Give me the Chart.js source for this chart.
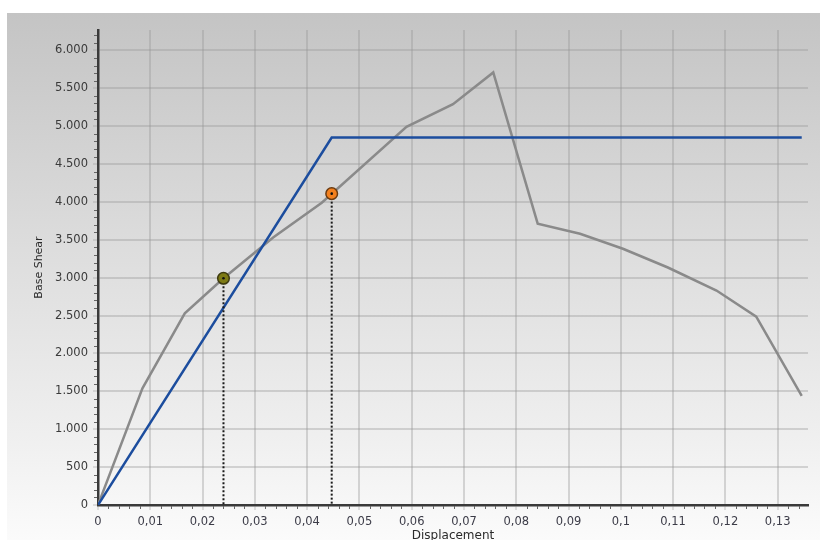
<!DOCTYPE html>
<html>
<head>
<meta charset="utf-8">
<script src="https://cdn.jsdelivr.net/npm/chart.js@4/dist/chart.umd.min.js"></script>
<style>
  html, body { margin: 0; padding: 0; background: #fff; }
  canvas { display: block; }
</style>
</head>
<body>
<canvas id="c" width="820" height="540"></canvas>
<script>
// Pushover capacity curve, its bilinear idealisation and two performance points
const displacement = [0, 0.0085, 0.0166, 0.0240, 0.0335, 0.0428, 0.0590, 0.0679, 0.0756, 0.0841, 0.0922, 0.1004, 0.1090, 0.1183, 0.1259, 0.1346];
const baseShear    = [0, 1540, 2530, 2993, 3532, 3990, 4991, 5290, 5710, 3713, 3580, 3382, 3135, 2831, 2487, 1442];

const bilinearDisp  = [0, 0.0447, 0.1346];
const bilinearShear = [0, 4850, 4850];

const pointDisp  = [0.0240, 0.0447];
const pointShear = [2993, 4110];

const xTicks      = [0, 0.01, 0.02, 0.03, 0.04, 0.05, 0.06, 0.07, 0.08, 0.09, 0.10, 0.11, 0.12, 0.13];
const xTickLabels = ['0', '0,01', '0,02', '0,03', '0,04', '0,05', '0,06', '0,07', '0,08', '0,09', '0,1', '0,11', '0,12', '0,13'];
const yTicks      = [0, 500, 1000, 1500, 2000, 2500, 3000, 3500, 4000, 4500, 5000, 5500, 6000];
const yTickLabels = ['0', '500', '1.000', '1.500', '2.000', '2.500', '3.000', '3.500', '4.000', '4.500', '5.000', '5.500', '6.000'];

const X_MAX = 0.1358;
const Y_MAX = 6270;

const pointFill   = ['#7d7a14', '#f3801e'];
const pointBorder = ['#3d3a10', '#6a3a10'];

const toXY = (xs, ys) => xs.map((x, i) => ({ x: x, y: ys[i] }));

// panel background with a vertical grey-to-white gradient
const panelBackground = {
  id: 'panelBackground',
  beforeDraw(chart) {
    const ctx = chart.ctx;
    ctx.save();
    ctx.fillStyle = '#ffffff';
    ctx.fillRect(0, 0, chart.width, chart.height);
    const g = ctx.createLinearGradient(0, 13, 0, chart.height);
    g.addColorStop(0, '#c4c4c4');
    g.addColorStop(0.45, '#dddddd');
    g.addColorStop(0.8, '#efefef');
    g.addColorStop(1, '#fbfbfb');
    ctx.fillStyle = g;
    ctx.fillRect(7, 13, chart.width - 7, chart.height - 13);
    ctx.restore();
  }
};

// small minor tick marks along both axes
const minorTicks = {
  id: 'minorTicks',
  afterDraw(chart) {
    const ctx = chart.ctx;
    const xs = chart.scales.x, ys = chart.scales.y;
    const area = chart.chartArea;
    ctx.save();
    ctx.strokeStyle = '#666';
    ctx.lineWidth = 1;
    ctx.beginPath();
    for (let k = 1; k * 100 <= Y_MAX; k++) {
      if (k % 5 === 0) continue;
      const py = Math.round(ys.getPixelForValue(k * 100)) + 0.5;
      ctx.moveTo(area.left - 4, py);
      ctx.lineTo(area.left - 1, py);
    }
    for (let k = 1; k * 0.002 <= X_MAX; k++) {
      if (k % 5 === 0) continue;
      const px = Math.round(xs.getPixelForValue(k * 0.002)) + 0.5;
      ctx.moveTo(px, area.bottom + 1);
      ctx.lineTo(px, area.bottom + 4);
    }
    ctx.stroke();
    ctx.restore();
  }
};

const gridColor = 'rgba(150,150,150,0.36)';
const tickFont = { family: 'DejaVu Sans', size: 11.5 };

new Chart(document.getElementById('c'), {
  type: 'line',
  data: {
    datasets: [
      {
        label: 'Capacity curve',
        data: toXY(displacement, baseShear),
        borderColor: '#8a8a8a',
        borderWidth: 2.5,
        pointRadius: 0,
        tension: 0,
        order: 4
      },
      {
        label: 'Bilinear',
        data: toXY(bilinearDisp, bilinearShear),
        borderColor: '#1c4d9e',
        borderWidth: 2.5,
        pointRadius: 0,
        tension: 0,
        order: 3
      },
      {
        label: 'Drop 1',
        data: [{ x: pointDisp[0], y: pointShear[0] }, { x: pointDisp[0], y: 0 }],
        borderColor: '#1a1a1a',
        borderWidth: 2,
        borderDash: [2, 2],
        pointRadius: 0,
        order: 2
      },
      {
        label: 'Drop 2',
        data: [{ x: pointDisp[1], y: pointShear[1] }, { x: pointDisp[1], y: 0 }],
        borderColor: '#1a1a1a',
        borderWidth: 2,
        borderDash: [2, 2],
        pointRadius: 0,
        order: 2
      },
      {
        label: 'Performance points',
        data: toXY(pointDisp, pointShear),
        showLine: false,
        pointRadius: 5.8,
        pointBackgroundColor: pointFill,
        pointBorderColor: pointBorder,
        pointBorderWidth: 1.5,
        order: 1
      },
      {
        label: 'Point centres',
        data: toXY(pointDisp, pointShear),
        showLine: false,
        pointRadius: 1.3,
        pointBackgroundColor: '#111',
        pointBorderWidth: 0,
        order: 0
      }
    ]
  },
  options: {
    responsive: false,
    animation: false,
    events: [],
    layout: { padding: { left: 30, top: 30, right: 12, bottom: 0 } },
    plugins: { legend: { display: false }, tooltip: { enabled: false } },
    scales: {
      x: {
        type: 'linear',
        min: 0,
        max: X_MAX,
        afterBuildTicks(scale) { scale.ticks = xTicks.map(v => ({ value: v })); },
        afterFit(scale) { scale.height = 35; },
        grid: { color: gridColor, lineWidth: 2, tickLength: 5, tickColor: gridColor, tickWidth: 1.5 },
        border: { display: true, color: '#3a3a3a', width: 2.5 },
        ticks: {
          autoSkip: false,
          maxRotation: 0,
          padding: 5,
          color: '#3c3c48',
          font: tickFont,
          callback: (v, i) => xTickLabels[i]
        },
        title: {
          display: true,
          text: 'Displacement',
          color: '#2a2a2a',
          font: { family: 'DejaVu Sans', size: 12 },
          padding: { top: 0, bottom: -3 }
        }
      },
      y: {
        type: 'linear',
        min: 0,
        max: Y_MAX,
        afterBuildTicks(scale) { scale.ticks = yTicks.map(v => ({ value: v })); },
        afterFit(scale) { scale.width = 68; },
        grid: { color: gridColor, lineWidth: 2, tickLength: 5, tickColor: gridColor, tickWidth: 1.5 },
        border: { display: true, color: '#3a3a3a', width: 2.5 },
        ticks: {
          autoSkip: false,
          padding: 5,
          color: '#3a3a3a',
          font: tickFont,
          callback: (v, i) => yTickLabels[i]
        },
        title: {
          display: true,
          text: 'Base Shear',
          color: '#2a2a2a',
          font: { family: 'DejaVu Sans', size: 11 },
          padding: { top: 3, bottom: 0 }
        }
      }
    }
  },
  plugins: [panelBackground, minorTicks]
});
</script>
</body>
</html>
